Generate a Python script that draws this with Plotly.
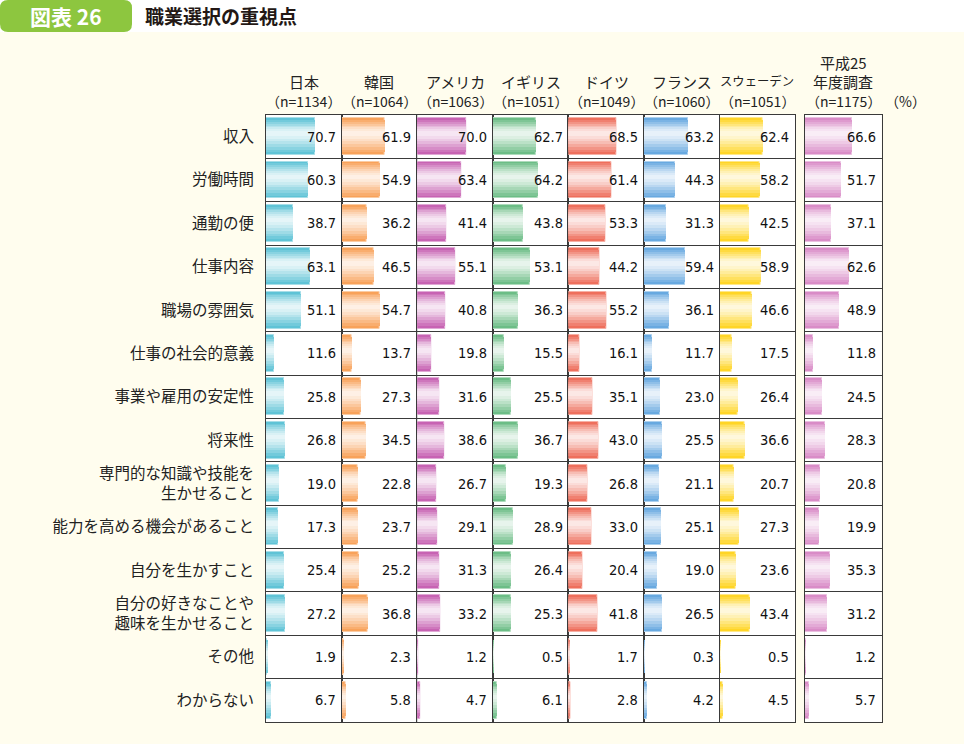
import plotly.graph_objects as go

# Data (percent)
row_labels = [
    "収入", "労働時間", "通勤の便", "仕事内容", "職場の雰囲気",
    "仕事の社会的意義", "事業や雇用の安定性", "将来性",
    "専門的な知識や技能を<br>生かせること", "能力を高める機会があること",
    "自分を生かすこと", "自分の好きなことや<br>趣味を生かせること",
    "その他", "わからない",
]
groups = ["日本", "韓国", "アメリカ", "イギリス", "ドイツ", "フランス", "スウェーデン", "平成25<br>年度調査"]
sample_sizes = [1134, 1064, 1063, 1051, 1049, 1060, 1051, 1175]

japan = [70.7, 60.3, 38.7, 63.1, 51.1, 11.6, 25.8, 26.8, 19.0, 17.3, 25.4, 27.2, 1.9, 6.7]
korea = [61.9, 54.9, 36.2, 46.5, 54.7, 13.7, 27.3, 34.5, 22.8, 23.7, 25.2, 36.8, 2.3, 5.8]
usa = [70.0, 63.4, 41.4, 55.1, 40.8, 19.8, 31.6, 38.6, 26.7, 29.1, 31.3, 33.2, 1.2, 4.7]
uk = [62.7, 64.2, 43.8, 53.1, 36.3, 15.5, 25.5, 36.7, 19.3, 28.9, 26.4, 25.3, 0.5, 6.1]
germany = [68.5, 61.4, 53.3, 44.2, 55.2, 16.1, 35.1, 43.0, 26.8, 33.0, 20.4, 41.8, 1.7, 2.8]
france = [63.2, 44.3, 31.3, 59.4, 36.1, 11.7, 23.0, 25.5, 21.1, 25.1, 19.0, 26.5, 0.3, 4.2]
sweden = [62.4, 58.2, 42.5, 58.9, 46.6, 17.5, 26.4, 36.6, 20.7, 27.3, 23.6, 43.4, 0.5, 4.5]
heisei25 = [66.6, 51.7, 37.1, 62.6, 48.9, 11.8, 24.5, 28.3, 20.8, 19.9, 35.3, 31.2, 1.2, 5.7]

series = [japan, korea, usa, uk, germany, france, sweden, heisei25]
colors = ["#5FC3D6", "#F8A25A", "#C763B3", "#6CBD86", "#EE6F5C", "#68A9E0", "#FFD526", "#D98CC7"]

W, H = 964, 744
CREAM = "#FFFDEE"
GRID = "#3A3A3A"
JP_FONT = "Noto Sans CJK JP"
NUM_FONT = "DejaVu Sans Condensed, Liberation Sans Narrow, Roboto, sans-serif"


def px_x(p):
    return p / W


def px_y(p):
    return 1 - p / H


def mix(hex_color, t):
    # blend a colour toward white by t
    r, g, b = (int(hex_color[i:i + 2], 16) for i in (1, 3, 5))
    r, g, b = (round(c + (255 - c) * t) for c in (r, g, b))
    return f"rgb({r},{g},{b})"


panel_left = [266 + i * 75.6 for i in range(7)] + [805]
panel_width = [75.6] * 7 + [76.6]
grid_top, grid_bottom = 115, 722
x_max = 109
n_rows = len(row_labels)
rows = list(range(n_rows))

# layered bars give the shaded, tube-like look
shade = [0.0, 0.12, 0.26, 0.40, 0.54, 0.66, 0.76, 0.84]
bar_h = 0.85

fig = go.Figure()
annotations = []

for i, (vals, col) in enumerate(zip(series, colors)):
    ax = "" if i == 0 else str(i + 1)
    for k, t in enumerate(shade):
        f = k / len(shade)
        top = -bar_h / 2 + 0.40 * bar_h * f
        bottom = bar_h / 2 - 0.60 * bar_h * f
        fig.add_trace(go.Bar(
            x=vals, y=rows, orientation="h",
            width=bottom - top, offset=top,
            marker=dict(color=mix(col, t),
                        line=dict(width=1 if k == 0 else 0, color=mix(col, 0.45))),
            xaxis="x" + ax, yaxis="y" + ax,
            hoverinfo="skip",
        ))
    for j, v in enumerate(vals):
        annotations.append(dict(
            x=0.95, xref=f"x{ax} domain", y=j, yref="y" + ax,
            text=f"{v:.1f}", showarrow=False, xanchor="right",
            font=dict(family=NUM_FONT, size=14.5, color="#111"),
        ))

    # column header, one annotation per line
    cx = px_x(panel_left[i] + panel_width[i] / 2)
    head_lines = groups[i].split("<br>") + [f"（n={sample_sizes[i]}）"]
    for li, line in enumerate(reversed(head_lines)):
        size = 14 if li == 0 else min(15, 74 / len(line))
        annotations.append(dict(
            x=cx, xref="paper", y=px_y(101 - 19.5 * li), yref="paper",
            text=line, showarrow=False, xanchor="center", yanchor="middle",
            font=dict(family=JP_FONT, size=size, color="#222"),
        ))

    dom = [px_x(panel_left[i]), px_x(panel_left[i] + panel_width[i])]
    fig.layout["xaxis" + ax] = dict(
        domain=dom, range=[0, x_max], anchor="y" + ax,
        showticklabels=False, showgrid=False, zeroline=False,
        showline=True, mirror=True, linecolor=GRID, linewidth=1, fixedrange=True,
    )
    fig.layout["yaxis" + ax] = dict(
        domain=[px_y(grid_bottom), px_y(grid_top)], anchor="x" + ax,
        range=[n_rows - 0.5, -0.5], tickmode="array", tickvals=rows,
        ticktext=row_labels if i == 0 else [""] * n_rows,
        showticklabels=(i == 0), ticks="", ticklabelstandoff=8,
        tickfont=dict(family=JP_FONT, size=15.5, color="#222"),
        showgrid=False, zeroline=False,
        showline=True, mirror=True, linecolor=GRID, linewidth=1,
        minor=dict(tickmode="array", tickvals=[r + 0.5 for r in rows[:-1]],
                   showgrid=True, gridcolor=GRID, gridwidth=1, ticks=""),
        fixedrange=True,
    )

annotations.append(dict(
    x=px_x(883), xref="paper", y=px_y(101), yref="paper",
    text="（%）", showarrow=False, xanchor="left", yanchor="middle",
    font=dict(family=JP_FONT, size=14, color="#222"),
))

# header band
annotations.append(dict(
    x=px_x(66), xref="paper", y=px_y(16), yref="paper",
    text="<b>図表 26</b>", showarrow=False, xanchor="center", yanchor="middle",
    font=dict(family=JP_FONT, size=21, color="white"),
))
annotations.append(dict(
    x=px_x(143), xref="paper", y=px_y(16), yref="paper",
    text="<b>職業選択の重視点</b>", showarrow=False, xanchor="left", yanchor="middle",
    font=dict(family=JP_FONT, size=19, color="#231815"),
))

rx, ry = px_x(8), 8 / H
x0, x1 = px_x(0), px_x(132)
y0, y1 = px_y(32), px_y(0)
box_path = (
    f"M {x0 + rx},{y1} L {x1 - rx},{y1} Q {x1},{y1} {x1},{y1 - ry} "
    f"L {x1},{y0 + ry} Q {x1},{y0} {x1 - rx},{y0} L {x0 + rx},{y0} "
    f"Q {x0},{y0} {x0},{y0 + ry} L {x0},{y1 - ry} Q {x0},{y1} {x0 + rx},{y1} Z"
)

fig.update_layout(
    width=W, height=H,
    margin=dict(l=0, r=0, t=0, b=0),
    barmode="overlay", bargap=0, showlegend=False,
    paper_bgcolor=CREAM, plot_bgcolor="white",
    annotations=annotations,
    shapes=[
        dict(type="rect", xref="paper", yref="paper", x0=0, x1=1,
             y0=px_y(32), y1=1, fillcolor="white", line=dict(width=0), layer="below"),
        dict(type="path", xref="paper", yref="paper", path=box_path,
             fillcolor="#8DC63F", line=dict(width=0), layer="above"),
    ],
)

# drop the page's default body margin so the figure sits at the window corner
fig.write_html("out.html", config={"displayModeBar": False},
               post_script="document.body.style.margin='0';")
